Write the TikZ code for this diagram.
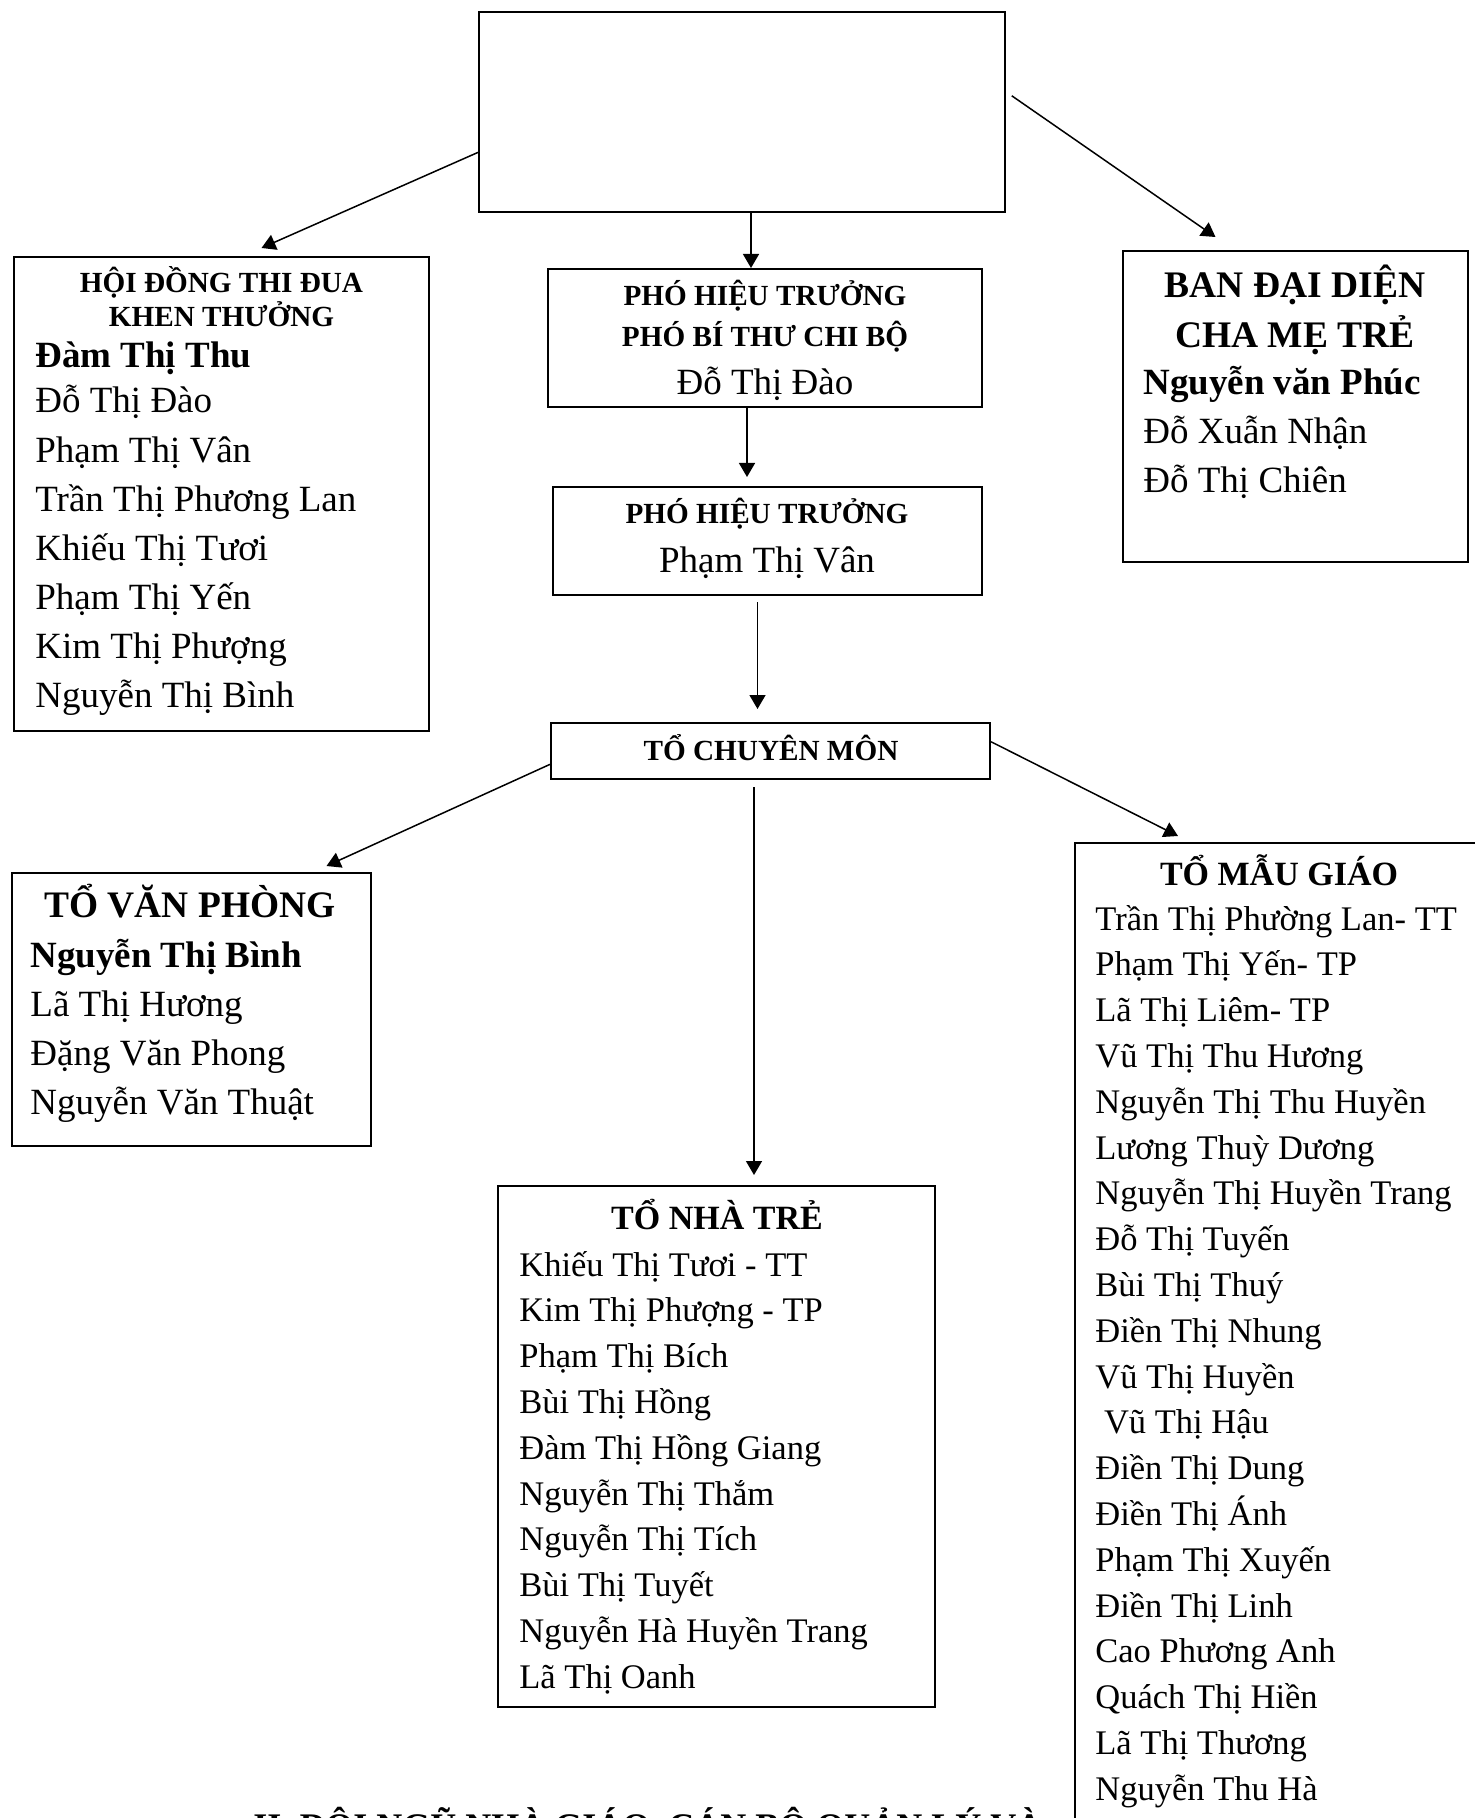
\documentclass[tikz,border=0pt]{standalone}
\usepackage{fontspec}
\setmainfont{Liberation Serif}
\usetikzlibrary{arrows.meta,calc,fit}

\tikzset{
  box/.style={draw, line width=1pt, inner sep=0pt, fill=white},
  conn/.style={-{Triangle[length=7pt,width=8pt]}, line width=0.75pt},
  head/.style={inner sep=0pt, anchor=base, font=\fontsize{14.6}{17}\selectfont\bfseries},
  bighead/.style={inner sep=0pt, anchor=base, font=\fontsize{18.7}{22}\selectfont\bfseries},
  lead/.style={inner sep=0pt, anchor=base west, font=\fontsize{18.5}{22}\selectfont\bfseries},
  member/.style={inner sep=0pt, anchor=base west, font=\fontsize{18.5}{22}\selectfont},
  smallmember/.style={inner sep=0pt, anchor=base west, font=\fontsize{17.25}{21}\selectfont},
}

\begin{document}
\begin{tikzpicture}[x=0.5pt, y=-0.5pt]
    \useasboundingbox (0,0) rectangle (1474,1818);

    % boxes
    \node[box, fit={(479,12) (1005,212)}] (top) {};
    \node[box, fit={(14,257) (429,731)}] (hd) {};
    \node[box, fit={(548,269) (982,407)}] (pht1) {};
    \node[box, fit={(553,487) (982,595)}] (pht2) {};
    \node[box, fit={(1123,251) (1468,562)}] (bd) {};
    \node[box, fit={(551,723) (990,779)}] (tcm) {};
    \node[box, fit={(12,873) (371,1146)}] (tvp) {};
    \node[box, fit={(498,1186) (935,1707)}] (ntr) {};
    \node[box, fit={(1075,843) (1483,1840)}] (mg) {};

    % connectors
    \draw[conn] ($(top.north west)!0.7!(top.south west)$) -- ($(hd.north)+(40,-8)$);
    \draw[conn] ([xshift=4.5pt]top.south) -- ([xshift=4.5pt]top.south |- pht1.north);
    \draw[conn, shorten <=3.5pt] ($(top.north east)!0.4!(top.south east)$) -- ($(bd.north)+(-80,-13)$);
    \draw[conn, shorten >=4.5pt] ([xshift=-9pt]pht1.south) -- ([xshift=-9pt]pht1.south |- pht2.north);
    \draw[conn, shorten <=3pt, shorten >=6.5pt] ([xshift=-5pt]pht2.south) -- ([xshift=-5pt]pht2.south |- tcm.north);
    \draw[conn] ($(tcm.north west)!0.73!(tcm.south west)$) -- ($(tvp.north)+(135,-6)$);
    \draw[conn, shorten <=3.5pt, shorten >=5pt] ([xshift=-8.25pt]tcm.south) -- ([xshift=-8.25pt]tcm.south |- ntr.north);
    \draw[conn] ($(tcm.north east)!0.34!(tcm.south east)$) -- ($(mg.north)+(-101,-6)$);

    % hoi dong thi dua
    \node[head] (hd1) at (221.5,293) {HỘI ĐỒNG THI ĐUA};
    \node[head] (hd2) at (221.5,327) {KHEN THƯỞNG};
    \node[lead] (hd3) at (35,368) {Đàm Thị Thu};
    \foreach \who [count=\i from 0] in {Đỗ Thị Đào, Phạm Thị Vân, Trần Thị Phương Lan,
        Khiếu Thị Tươi, Phạm Thị Yến, Kim Thị Phượng, Nguyễn Thị Bình}
        \node[member] (hdm\i) at (35,413+49*\i) {\who};

    % pho hieu truong
    \node[head] (pht1a) at (765,306) {PHÓ HIỆU TRƯỞNG};
    \node[head] (pht1b) at (765,347) {PHÓ BÍ THƯ CHI BỘ};
    \node[member, anchor=base] (pht1c) at (765,395) {Đỗ Thị Đào};
    \node[head] (pht2a) at (767,523) {PHÓ HIỆU TRƯỞNG};
    \node[member, anchor=base] (pht2b) at (767,572) {Phạm Thị Vân};

    % ban dai dien
    \node[head, font=\fontsize{18.75}{22}\selectfont\bfseries] (bd1) at (1295,298) {BAN ĐẠI DIỆN};
    \node[head, font=\fontsize{18.75}{22}\selectfont\bfseries] (bd2) at (1295,348) {CHA MẸ TRẺ};
    \node[lead] (bd3) at (1143,395) {Nguyễn văn Phúc};
    \node[member] (bd4) at (1143,444) {Đỗ Xuẫn Nhận};
    \node[member] (bd5) at (1143,492) {Đỗ Thị Chiên};

    % to chuyen mon
    \node[head] (tcm1) at (771,760) {TỔ CHUYÊN MÔN};

    % to van phong
    \node[bighead] (tvp1) at (190,917) {TỔ VĂN PHÒNG};
    \node[lead] (tvp2) at (30,967) {Nguyễn Thị Bình};
    \foreach \who [count=\i from 0] in {Lã Thị Hương, Đặng Văn Phong, Nguyễn Văn Thuật}
        \node[member] (tvpm\i) at (30,1016+49*\i) {\who};

    % to nha tre
    \node[bighead, font=\fontsize{17}{21}\selectfont\bfseries] (ntr1) at (717,1229) {TỔ NHÀ TRẺ};
    \foreach \who [count=\i from 0] in {Khiếu Thị Tươi - TT, Kim Thị Phượng - TP, Phạm Thị Bích,
        Bùi Thị Hồng, Đàm Thị Hồng Giang, Nguyễn Thị Thắm, Nguyễn Thị Tích, Bùi Thị Tuyết,
        Nguyễn Hà Huyền Trang, Lã Thị Oanh}
        \node[smallmember] (ntrm\i) at (519,1276+45.8*\i) {\who};

    % to mau giao
    \node[bighead, font=\fontsize{17}{21}\selectfont\bfseries] (mg1) at (1279,885) {TỔ MẪU GIÁO};
    \foreach \who [count=\i from 0] in {Trần Thị Phường Lan- TT, Phạm Thị Yến- TP, Lã Thị Liêm- TP,
        Vũ Thị Thu Hương, Nguyễn Thị Thu Huyền, Lương Thuỳ Dương, Nguyễn Thị Huyền Trang,
        Đỗ Thị Tuyến, Bùi Thị Thuý, Điền Thị Nhung, Vũ Thị Huyền, \ Vũ Thị Hậu, Điền Thị Dung,
        Điền Thị Ánh, Phạm Thị Xuyến, Điền Thị Linh, Cao Phương Anh, Quách Thị Hiền,
        Lã Thị Thương, Nguyễn Thu Hà}
        \node[smallmember] (mgm\i) at (1095,930+45.8*\i) {\who};

    % section heading, cut off at the bottom
    \node[lead, font=\fontsize{18}{22}\selectfont\bfseries] (sec) at (253,1838) {II. ĐỘI NGŨ NHÀ GIÁO, CÁN BỘ QUẢN LÝ VÀ};
\end{tikzpicture}
\end{document}
